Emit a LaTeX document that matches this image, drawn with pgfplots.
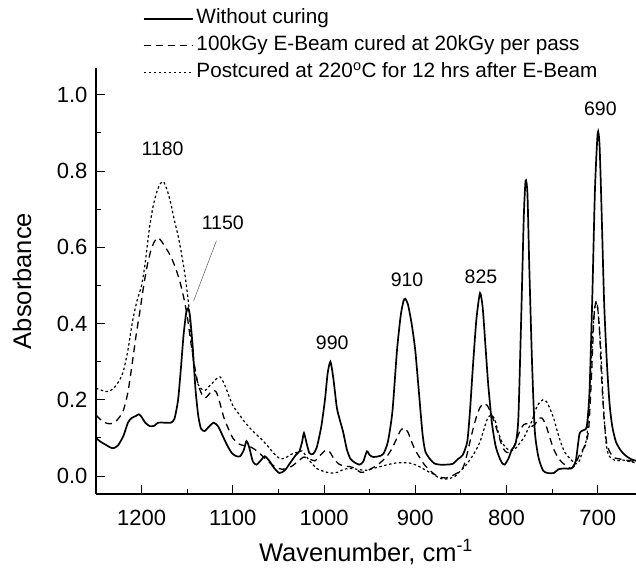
\documentclass[border=0pt]{standalone}
\usepackage{pgfplots}
\pgfplotsset{compat=1.18}
\usepackage{fontspec}
\setmainfont{Liberation Sans}
\begin{document}
\begin{tikzpicture}
\begin{axis}[
  scale only axis, width=540pt, height=426pt,
  x dir=reverse, xmin=658, xmax=1250, ymin=-0.047, ymax=1.07,
  axis x line*=bottom, axis y line*=left,
  axis line style={line width=1.2pt, -},
  xtick={700,800,...,1200}, ytick={0,0.2,...,1.0},
  minor x tick num=1, minor y tick num=1,
  tick align=inside,
  major tick length=9pt, minor tick length=5pt,
  every tick/.style={line width=0.9pt, black},
  yticklabel style={/pgf/number format/fixed, /pgf/number format/fixed zerofill, /pgf/number format/precision=1, xshift=-5pt},
  xticklabel style={/pgf/number format/set thousands separator={}, yshift=-13pt},
  /pgf/number format/assume math mode=true,
  ticklabel style={font=\fontsize{22}{26}\selectfont},
  xlabel={Wavenumber, cm\textsuperscript{-1}},
  ylabel={Absorbance},
  every axis x label/.style={at={(axis description cs:0.5,0)}, anchor=center, yshift=-58pt, font=\fontsize{25.5}{30}\selectfont},
  every axis y label/.style={at={(axis description cs:0,0.5)}, anchor=center, rotate=90, yshift=74pt, font=\fontsize{25.5}{30}\selectfont},
  legend style={draw=none, fill=none, at={(axis description cs:0.0863,1.139)}, anchor=north west,
    font=\fontsize{20.7}{24}\selectfont, row sep=7.3pt, column sep=3pt, inner sep=0pt,
    nodes={inner sep=0pt, text height=15pt, text depth=4.5pt}},
  legend cell align=left,
  legend image code/.code={\draw[#1] (0pt,0pt) -- (49pt,0pt);},
]
\addplot[black, line width=1.7pt, smooth, tension=0.4] coordinates {
(1250,0.100) (1245,0.090) (1240,0.083) (1235,0.076) (1231,0.073) (1226,0.080)
(1220,0.105) (1215,0.140) (1211,0.152) (1206,0.158) (1203,0.162) (1200,0.155)
(1196,0.140) (1191,0.131) (1186,0.132) (1182,0.140) (1175,0.140) (1168,0.140)
(1164,0.150) (1160,0.200) (1157,0.280) (1154,0.370) (1151,0.430) (1149,0.440)
(1147,0.420) (1144,0.340) (1141,0.230) (1138,0.160) (1135,0.125) (1131,0.118)
(1126,0.130) (1121,0.140) (1116,0.130) (1111,0.105) (1106,0.080) (1101,0.060)
(1096,0.052) (1092,0.052) (1088,0.068) (1085,0.092) (1082,0.075) (1078,0.038)
(1074,0.030) (1069,0.042) (1065,0.052) (1060,0.040) (1055,0.022) (1049,0.008)
(1043,0.015) (1037,0.035) (1031,0.055) (1027,0.065) (1024,0.090) (1022,0.113)
(1019,0.085) (1016,0.060) (1012,0.058) (1008,0.075) (1003,0.130) (999,0.200)
(996,0.270) (993,0.300) (990,0.260) (986,0.180) (983,0.150) (979,0.115)
(975,0.070) (971,0.045) (966,0.035) (961,0.030) (957,0.038) (953,0.065)
(950,0.055) (946,0.050) (940,0.052) (935,0.058) (930,0.090) (925,0.170)
(920,0.330) (916,0.420) (913,0.458) (911,0.465) (908,0.450) (904,0.400)
(900,0.330) (896,0.220) (892,0.110) (889,0.065) (884,0.045) (879,0.033)
(873,0.030) (866,0.030) (859,0.032) (853,0.045) (848,0.055) (843,0.090)
(840,0.170) (837,0.280) (833,0.410) (829,0.480) (826,0.440) (823,0.340)
(820,0.240) (816,0.140) (812,0.080) (808,0.050) (805,0.035) (802,0.030)
(798,0.045) (794,0.070) (790,0.085) (787,0.150) (784,0.400) (781,0.680)
(779,0.775) (777,0.740) (775,0.550) (772,0.300) (769,0.120) (765,0.050)
(760,0.015) (755,0.008) (748,0.008) (743,0.018) (736,0.020) (729,0.020)
(724,0.040) (720,0.110) (716,0.120) (712,0.130) (709,0.220) (706,0.460)
(703,0.750) (700,0.900) (698,0.870) (696,0.720) (693,0.460) (690,0.300)
(687,0.190) (684,0.130) (680,0.090) (675,0.068) (670,0.055) (664,0.045)
(658,0.040)
};
\addlegendentry{Without curing}
\addplot[black, line width=1.3pt, dash pattern=on 7pt off 5pt, smooth, tension=0.4] coordinates {
(1250,0.160) (1245,0.148) (1240,0.140) (1235,0.137) (1230,0.140) (1225,0.152)
(1220,0.172) (1215,0.220) (1210,0.300) (1206,0.370) (1202,0.430) (1198,0.495)
(1194,0.550) (1190,0.590) (1186,0.615) (1182,0.625) (1178,0.615) (1174,0.600)
(1170,0.585) (1166,0.565) (1162,0.540) (1158,0.510) (1154,0.470) (1150,0.420)
(1146,0.350) (1142,0.290) (1138,0.240) (1134,0.215) (1130,0.205) (1126,0.215)
(1122,0.225) (1118,0.220) (1114,0.190) (1110,0.155) (1105,0.125) (1100,0.100)
(1094,0.085) (1088,0.080) (1082,0.078) (1076,0.070) (1070,0.058) (1064,0.045)
(1058,0.032) (1052,0.022) (1046,0.018) (1040,0.020) (1034,0.028) (1028,0.040)
(1022,0.050) (1016,0.045) (1010,0.040) (1004,0.055) (998,0.068) (994,0.064)
(989,0.045) (984,0.032) (978,0.026) (972,0.025) (966,0.020) (960,0.010)
(954,0.012) (948,0.020) (942,0.028) (936,0.040) (930,0.055) (925,0.075)
(920,0.100) (916,0.120) (912,0.126) (908,0.115) (904,0.090) (900,0.068)
(895,0.048) (890,0.030) (884,0.015) (878,0.003) (872,-0.003) (866,-0.005)
(860,0.000) (854,0.008) (849,0.015) (845,0.040) (841,0.080) (837,0.120)
(833,0.155) (829,0.180) (825,0.190) (821,0.185) (817,0.165) (813,0.140)
(809,0.110) (805,0.080) (801,0.064) (797,0.062) (793,0.072) (789,0.095)
(785,0.120) (781,0.135) (777,0.137) (773,0.130) (769,0.135) (765,0.150)
(761,0.152) (757,0.135) (753,0.105) (749,0.075) (745,0.055) (740,0.038)
(735,0.028) (730,0.020) (726,0.025) (722,0.045) (718,0.065) (714,0.078)
(710,0.120) (707,0.250) (704,0.420) (701,0.460) (698,0.380) (696,0.270)
(693,0.150) (690,0.085) (686,0.060) (682,0.048) (676,0.045) (670,0.042)
(664,0.040) (658,0.038)
};
\addlegendentry{100kGy E-Beam cured at 20kGy per pass}
\addplot[black, line width=1.2pt, dash pattern=on 2.5pt off 2.5pt, smooth, tension=0.4] coordinates {
(1250,0.230) (1245,0.226) (1240,0.222) (1235,0.223) (1230,0.232) (1225,0.248)
(1220,0.275) (1215,0.330) (1210,0.405) (1205,0.460) (1200,0.500) (1196,0.560)
(1192,0.640) (1188,0.700) (1184,0.740) (1180,0.765) (1176,0.772) (1172,0.750)
(1168,0.715) (1164,0.670) (1160,0.630) (1156,0.580) (1152,0.520) (1148,0.440)
(1145,0.340) (1142,0.280) (1138,0.240) (1134,0.228) (1130,0.225) (1126,0.235)
(1122,0.245) (1118,0.255) (1114,0.260) (1110,0.245) (1105,0.215) (1100,0.185)
(1094,0.165) (1088,0.145) (1082,0.128) (1076,0.113) (1070,0.100) (1064,0.085)
(1058,0.068) (1052,0.052) (1047,0.045) (1042,0.048) (1036,0.057) (1030,0.062)
(1024,0.066) (1019,0.050) (1014,0.035) (1008,0.020) (1000,0.012) (992,0.008)
(985,0.010) (978,0.018) (970,0.020) (962,0.017) (954,0.015) (946,0.020)
(938,0.025) (930,0.030) (922,0.034) (914,0.035) (906,0.034) (898,0.028)
(892,0.020) (886,0.012) (880,0.005) (874,-0.005) (868,-0.008) (862,-0.006)
(856,0.000) (850,0.015) (844,0.030) (838,0.050) (833,0.070) (829,0.090)
(825,0.120) (821,0.150) (817,0.160) (813,0.150) (809,0.115) (805,0.090)
(801,0.075) (797,0.068) (793,0.068) (789,0.075) (785,0.088) (781,0.100)
(777,0.120) (772,0.145) (768,0.175) (764,0.192) (760,0.200) (756,0.195)
(752,0.175) (748,0.150) (744,0.115) (740,0.085) (736,0.062) (732,0.050)
(728,0.040) (724,0.032) (720,0.040) (716,0.070) (712,0.100) (709,0.200)
(706,0.350) (703,0.450) (700,0.440) (697,0.350) (694,0.200) (691,0.090)
(688,0.055) (684,0.045) (679,0.040) (672,0.042) (665,0.038) (658,0.035)
};
\addlegendentry{Postcured at 220\textsuperscript{o}C for 12 hrs after E-Beam}
\coordinate (SW) at (rel axis cs:0,0);
\draw[gray!70!black, line width=0.5pt] (axis cs:1118,0.617) -- (axis cs:1143,0.459);
\begin{scope}[every node/.style={font=\fontsize{19.5}{22}\selectfont, anchor=center, inner sep=0pt}]
\node at (axis cs:1177,0.858) {1180};
\node at (axis cs:1111,0.664) {1150};
\node at (axis cs:991,0.349) {990};
\node at (axis cs:909,0.514) {910};
\node at (axis cs:828,0.522) {825};
\node at (axis cs:697,0.963) {690};
\end{scope}
\end{axis}
\pgfresetboundingbox
\path[use as bounding box] ([shift={(-96pt,-78pt)}]SW) rectangle ++(636pt,572pt);
\end{tikzpicture}
\end{document}
